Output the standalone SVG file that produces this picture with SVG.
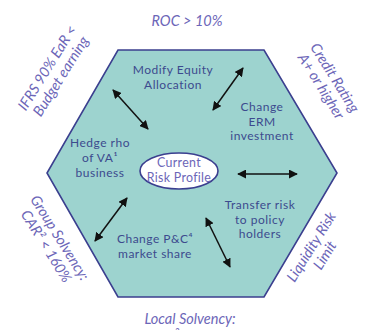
<svg xmlns="http://www.w3.org/2000/svg" width="376" height="330" viewBox="0 0 376 330">
  <style>
    .inner { font-family: Lato, "Open Sans", sans-serif; font-size: 12px; letter-spacing: 0.5px; fill: #3c4a8e; text-anchor: middle; }
    .outer { font-family: Lato, "Open Sans", sans-serif; font-size: 14.5px; font-style: italic; fill: #6c66b8; text-anchor: middle; }
    .core { font-family: Lato, "Open Sans", sans-serif; font-size: 12.4px; letter-spacing: 0.3px; fill: #6c66b8; text-anchor: middle; }
    .link { stroke: #111; stroke-width: 1.5; fill: none; marker-start: url(#head); marker-end: url(#head); }
  </style>
  <defs>
    <marker id="head" viewBox="0 0 10 10" refX="9" refY="5" markerWidth="6" markerHeight="6" orient="auto-start-reverse">
      <path d="M0,0 L10,5 L0,10 Z" fill="#111"/>
    </marker>
  </defs>

  <rect width="376" height="330" fill="#fff"/>

  <!-- hexagon of levers -->
  <g id="hexagon">
    <polygon points="118,50 264,50 337,173 264,297 118,297 47,173" fill="#9dd3cf" stroke="#3b3f8f" stroke-width="1.6"/>
  </g>

  <!-- constraints around the hexagon -->
  <g id="roc">
    <text class="outer" x="187" y="26">ROC &gt; 10%</text>
  </g>
  <g id="credit-rating" transform="translate(328,82) rotate(58)">
    <text class="outer" x="0" y="-3">Credit Rating</text>
    <text class="outer" x="0" y="13">A+ or higher</text>
  </g>
  <g id="liquidity" transform="translate(318,251) rotate(-58)">
    <text class="outer" x="0" y="-3">Liquidity Risk</text>
    <text class="outer" x="0" y="13">Limit</text>
  </g>
  <g id="local-solvency">
    <text class="outer" x="190" y="324">Local Solvency:</text>
    <text class="outer" x="190" y="341">SAR³ &gt; 150%</text>
  </g>
  <g id="group-solvency" transform="translate(53,242) rotate(58)">
    <text class="outer" x="0" y="-3">Group Solvency:</text>
    <text class="outer" x="0" y="13">CAR² &lt; 160%</text>
  </g>
  <g id="ifrs" transform="translate(54,72) rotate(-58)">
    <text class="outer" x="0" y="-3">IFRS 90% EaR &lt;</text>
    <text class="outer" x="0" y="13">Budget earning</text>
  </g>

  <!-- levers inside the hexagon -->
  <g id="modify-equity">
    <text class="inner" x="173" y="74">Modify Equity</text>
    <text class="inner" x="173" y="88.5">Allocation</text>
  </g>
  <g id="change-erm">
    <text class="inner" x="262" y="111">Change</text>
    <text class="inner" x="262" y="125.5">ERM</text>
    <text class="inner" x="262" y="140">investment</text>
  </g>
  <g id="hedge-rho">
    <text class="inner" x="100" y="147">Hedge rho</text>
    <text class="inner" x="100" y="162">of VA¹</text>
    <text class="inner" x="100" y="177">business</text>
  </g>
  <g id="transfer-risk">
    <text class="inner" x="260" y="209">Transfer risk</text>
    <text class="inner" x="260" y="223.5">to policy</text>
    <text class="inner" x="260" y="238">holders</text>
  </g>
  <g id="change-pc">
    <text class="inner" x="155" y="243">Change P&amp;C⁴</text>
    <text class="inner" x="155" y="257.5">market share</text>
  </g>
  <g id="current-risk">
    <ellipse cx="179" cy="171" rx="39" ry="18" fill="#fff" stroke="#3b3f8f" stroke-width="1.6"/>
    <text class="core" x="179" y="166.5">Current</text>
    <text class="core" x="179" y="181.5">Risk Profile</text>
  </g>

  <!-- two-way connectors -->
  <g id="connectors">
    <line class="link" x1="243" y1="68" x2="213" y2="110"/>
    <line class="link" x1="113" y1="90" x2="148" y2="129"/>
    <line class="link" x1="238" y1="174" x2="297" y2="174"/>
    <line class="link" x1="127" y1="198" x2="95" y2="241"/>
    <line class="link" x1="206" y1="218" x2="230" y2="267"/>
  </g>
</svg>
